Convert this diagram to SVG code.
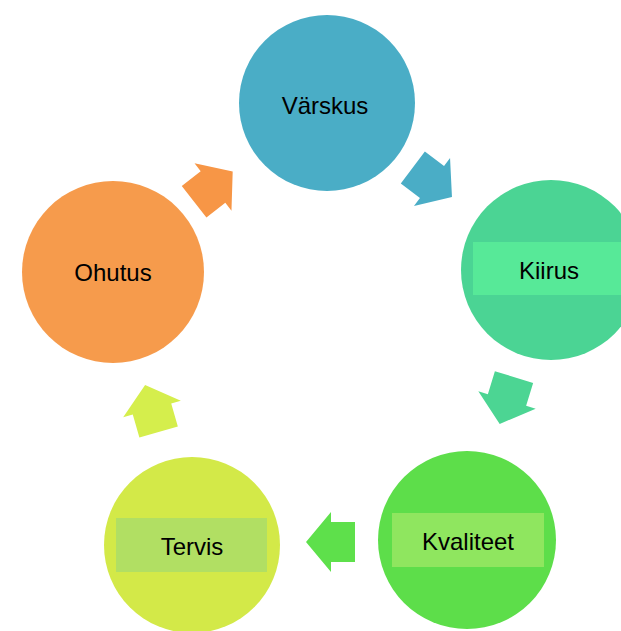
<svg xmlns="http://www.w3.org/2000/svg" width="621" height="631" viewBox="0 0 621 631">
<defs>
<style>
.lbl{font-family:"Liberation Sans",Arial,sans-serif;font-size:24px;fill:#000;text-anchor:middle;dominant-baseline:central}
</style>
<path id="arr" d="M-24,-20 L0,-20 L0,-30 L25,0 L0,30 L0,20 L-24,20 Z"/>
</defs>
<rect width="621" height="631" fill="#fff"/>
<g id="connectors">
<use href="#arr" fill="#4AADC6" transform="translate(432,182) rotate(37)"/>
<use href="#arr" fill="#4CD593" transform="translate(507,400) rotate(107)"/>
<use href="#arr" fill="#5EE04B" transform="translate(331,542) rotate(180)"/>
<use href="#arr" fill="#D5EE4C" transform="translate(152,409) rotate(-106)"/>
<use href="#arr" fill="#F79646" transform="translate(213,187) rotate(-38)"/>
</g>
<g id="varskus">
<circle cx="327" cy="103" r="88" fill="#4AADC6"/>
<text class="lbl" x="325" y="105">Värskus</text>
</g>
<g id="kiirus">
<circle cx="551" cy="270" r="90" fill="#4BD494"/>
<rect x="473" y="242" width="148" height="53" fill="#57E998"/>
<text class="lbl" x="549" y="270">Kiirus</text>
</g>
<g id="kvaliteet">
<circle cx="467" cy="540" r="89" fill="#5DDE4A"/>
<rect x="392" y="513" width="152" height="54" fill="#8FE65F"/>
<text class="lbl" x="468" y="541">Kvaliteet</text>
</g>
<g id="tervis">
<circle cx="192" cy="545" r="88" fill="#D3E948"/>
<rect x="116" y="518" width="151" height="54" fill="#B1DF63"/>
<text class="lbl" x="192" y="546">Tervis</text>
</g>
<g id="ohutus">
<circle cx="113" cy="272" r="91" fill="#F69B4C"/>
<text class="lbl" x="113" y="272">Ohutus</text>
</g>
</svg>
